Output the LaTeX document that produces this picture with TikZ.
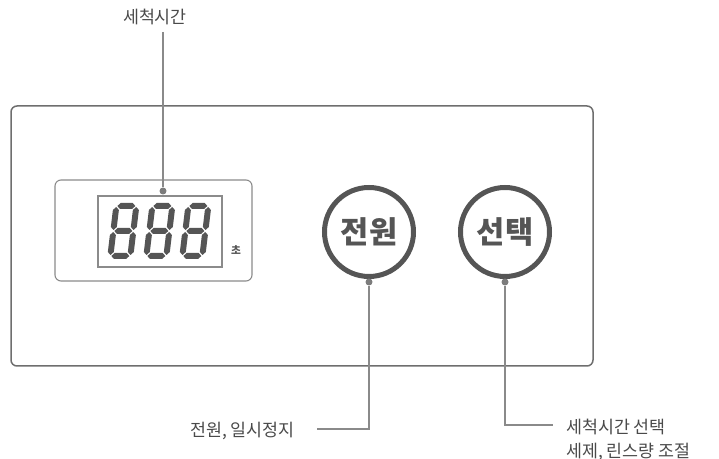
\documentclass[tikz,border=0pt]{standalone}
\usepackage{fontspec}
\setmainfont{Noto Sans CJK KR}
\definecolor{dk}{HTML}{555555}
\definecolor{ln}{HTML}{6E6E6E}
\definecolor{cn}{HTML}{8A8A8A}
\definecolor{tx}{HTML}{4A4A4A}
\tikzset{
  framebox/.style={draw=ln, line width=1.5*0.75pt, rounded corners=6*0.75pt, inner sep=0pt},
  dispbox/.style={draw=ln!80, line width=1.1*0.75pt, rounded corners=6*0.75pt, inner sep=0pt},
  screenbox/.style={draw=ln!80, line width=1.1*0.75pt, inner sep=0pt},
  btn/.style={circle, draw=dk, line width=5*0.75pt, minimum size=89*0.75pt, inner sep=0pt,
    text=dk, font=\bfseries\fontsize{23pt}{25pt}\selectfont},
  pin/.style={circle, fill=cn!90!black, inner sep=0pt, minimum size=7*0.75pt},
  conn/.style={draw=cn, line width=1.1*0.75pt},
  lbl/.style={text=tx, inner sep=0pt, font=\fontsize{13pt}{18pt}\selectfont},
  seg/.style={fill=dk, draw=none}
}
% seven segment digit "8"
\newcommand{\segH}[3]{% y, x1, x2
  \fill[seg] (#2,#1) -- ++(3,3) -- (#3-3,#1+3) -- (#3,#1) -- (#3-3,#1-3) -- (#2+3,#1-3) -- cycle;}
\newcommand{\segV}[3]{% x, y1, y2
  \fill[seg] (#1,#2) -- ++(3,3) -- (#1+3,#3-3) -- (#1,#3) -- (#1-3,#3-3) -- (#1-3,#2+3) -- cycle;}
\newcommand{\segdigit}[2]{%
  \begin{scope}[shift={(#1,#2)}, x={(0.75pt,0pt)}, y={(0.09pt,0.75pt)}]
    \segH{3}{4}{22}
    \segH{28}{4}{22}
    \segH{53}{4}{22}
    \segV{3}{4}{27}
    \segV{3}{29}{52}
    \segV{23}{4}{27}
    \segV{23}{29}{52}
  \end{scope}}
\begin{document}
\begin{tikzpicture}[x=0.75pt,y=-0.75pt]
\useasboundingbox (0,0) rectangle (719,459);
% main panel
\node[framebox, minimum width=582*0.75pt, minimum height=260*0.75pt] (panel) at (302,236) {};
% display
\node[dispbox, minimum width=197*0.75pt, minimum height=101*0.75pt] (disp) at (153.5,230.5) {};
\node[screenbox, minimum width=124*0.75pt, minimum height=71*0.75pt] (screen) at (160,231.5) {};
\segdigit{107}{259}
\segdigit{143}{259}
\segdigit{179}{259}
\node[text=dk, inner sep=0pt, font=\bfseries\fontsize{8pt}{9pt}\selectfont] (unit) at (236,250) {초};
% buttons
\node[btn] (power) at (369,232) {전원};
\node[btn] (select) at (505,232) {선택};
% pins
\node[pin] (pinD) at (163,191) {};
\node[pin] (pinP) at (369,282) {};
\node[pin] (pinS) at (505,282) {};
% labels
\node[lbl] (lblTime) at (155,17) {세척시간};
\node[lbl, anchor=east] (lblPower) at (295,431) {전원, 일시정지};
\node[lbl, anchor=west, align=left] (lblSel) at (566,440) {세척시간 선택\\세제, 린스량 조절};
% connectors
\coordinate (topEnd) at (163,32);
\coordinate (pBend) at (369,429);
\coordinate (pEnd) at (317,429);
\coordinate (sBend) at (505,425);
\coordinate (sEnd) at (553,425);
\draw[conn] (topEnd) -- (pinD);
\draw[conn] (pinP) -- (pBend) -- (pEnd);
\draw[conn] (pinS) -- (sBend) -- (sEnd);
\end{tikzpicture}
\end{document}
